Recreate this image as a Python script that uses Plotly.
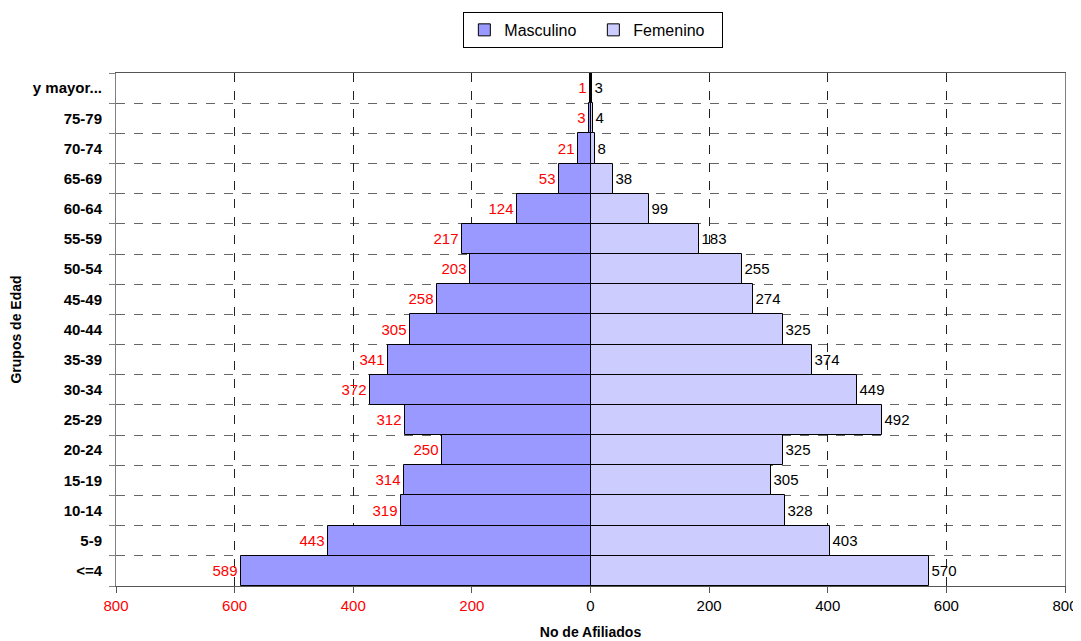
import plotly.graph_objects as go

groups = ["<=4", "5-9", "10-14", "15-19", "20-24", "25-29", "30-34", "35-39",
          "40-44", "45-49", "50-54", "55-59", "60-64", "65-69", "70-74", "75-79", "y mayor..."]
masculino = [589, 443, 319, 314, 250, 312, 372, 341, 305, 258, 203, 217, 124, 53, 21, 3, 1]
femenino = [570, 403, 328, 305, 325, 492, 449, 374, 325, 274, 255, 183, 99, 38, 8, 4, 3]
x_ticks = [-800, -600, -400, -200, 0, 200, 400, 600, 800]

pos = list(range(len(groups)))
font = "Liberation Sans, Arial, sans-serif"

fig = go.Figure()
fig.add_trace(go.Bar(
    y=pos, x=[-v for v in masculino], orientation="h", name="Masculino",
    marker=dict(color="#9999FF", line=dict(color="black", width=1)),
    width=1, text=[str(v) for v in masculino], textposition="outside",
    textfont=dict(color="#FF0000", size=15, family=font), constraintext="none",
    cliponaxis=False,
))
fig.add_trace(go.Bar(
    y=pos, x=femenino, orientation="h", name="Femenino",
    marker=dict(color="#CCCCFF", line=dict(color="black", width=1)),
    width=1, text=[str(v) for v in femenino], textposition="outside",
    textfont=dict(color="black", size=15, family=font), constraintext="none",
    cliponaxis=False,
))

ticktext = []
for t in x_ticks:
    if t < 0:
        ticktext.append(f"<span style='color:#FF0000'>{abs(t)}</span>")
    else:
        ticktext.append(str(t))

boundaries = [p - 0.5 for p in pos] + [pos[-1] + 0.5]

# page body has an 8px default margin, so the figure is sized/offset to compensate
fig.update_layout(
    width=1073, height=633,
    barmode="overlay",
    bargap=0,
    plot_bgcolor="white", paper_bgcolor="white",
    margin=dict(l=108, r=16, t=65, b=55, autoexpand=False),
    font=dict(family=font, size=14, color="black"),
    legend=dict(orientation="h", x=0.503, xanchor="center", y=1.119, yref="paper",
                yanchor="top", bordercolor="black", borderwidth=1,
                font=dict(size=16), itemwidth=30, entrywidth=84,
                tracegroupgap=0),
    xaxis=dict(range=[-800, 800], tickvals=x_ticks, ticktext=ticktext, automargin=False,
               showgrid=True, gridcolor="#222222", griddash="dash", gridwidth=1,
               zeroline=True, zerolinecolor="black", zerolinewidth=1.5,
               showline=True, linecolor="#555555", mirror=True,
               ticks="outside", ticklen=6, tickcolor="#555555",
               tickfont=dict(size=15),
               title=dict(text="<b>No de Afiliados</b>", font=dict(size=14), standoff=14)),
    yaxis=dict(range=[-0.5, len(groups) - 0.5], tickvals=pos, ticktext=[f"<b>{g}</b>" for g in groups],
               automargin=False,
               showgrid=False, zeroline=False, ticks="", ticklabelstandoff=10,
               showline=True, linecolor="#808080", mirror=True,
               tickfont=dict(size=15),
               minor=dict(tickvals=boundaries, showgrid=True, gridcolor="#666666",
                          griddash="dash", gridwidth=1, ticks="outside", ticklen=6,
                          tickcolor="#808080"),
               title=dict(text="<b>Grupos de Edad</b>", font=dict(size=14), standoff=14)),
)

fig.write_html("out.html")
